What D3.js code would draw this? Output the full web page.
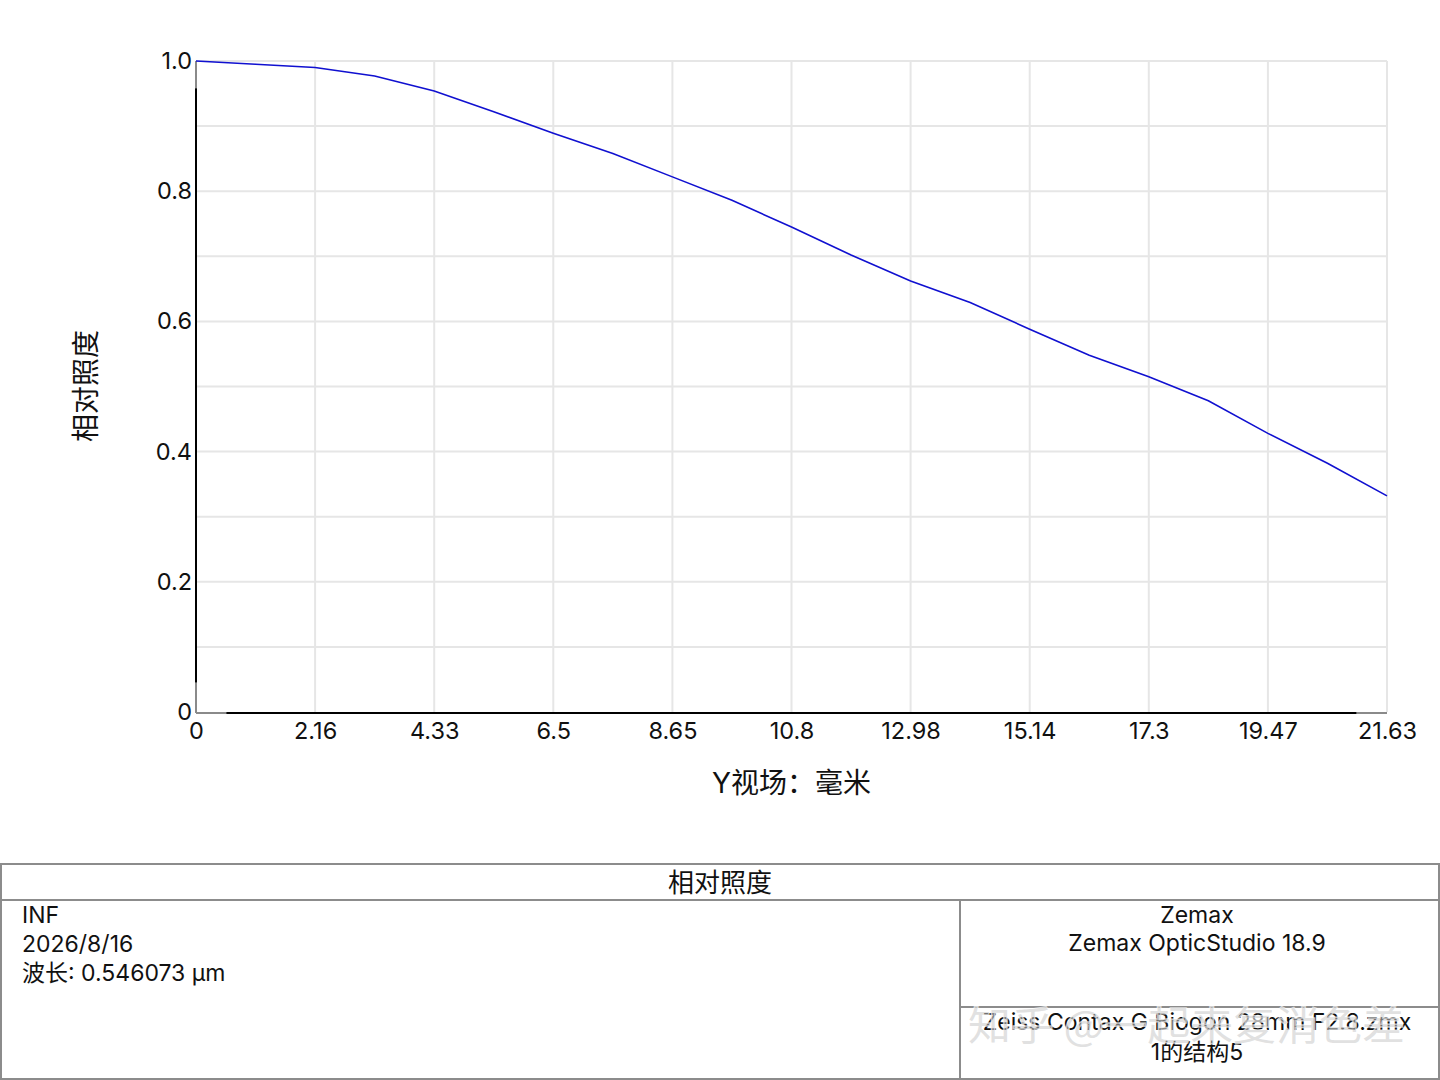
<!DOCTYPE html>
<html>
<head>
<meta charset="utf-8">
<script src="https://cdn.jsdelivr.net/npm/d3@7"></script>
<style>
  html, body { margin: 0; padding: 0; background: #fff; }
  svg { display: block; }
  text { font-family: Inter, "Noto Sans CJK SC", "Noto Sans", sans-serif; fill: #111; }
</style>
</head>
<body>
<svg id="chart" width="1440" height="1080"></svg>
<script>
// ---- data ----
const fieldMax = 21.63;
const fieldY = [0, 1.0815, 2.163, 3.2445, 4.326, 5.4075, 6.489, 7.5705, 8.652, 9.7335, 10.815,
                11.8965, 12.978, 14.0595, 15.141, 16.2225, 17.304, 18.3855, 19.467, 20.5485, 21.63];
const relIllum = [1.000, 0.995, 0.990, 0.977, 0.954, 0.922, 0.889, 0.858, 0.822, 0.786, 0.745, 0.702,
                  0.662, 0.629, 0.588, 0.548, 0.515, 0.478, 0.428, 0.382, 0.332];
const xTickLabels = ["0", "2.16", "4.33", "6.5", "8.65", "10.8", "12.98", "15.14", "17.3", "19.47", "21.63"];
const yTickValues = [0, 0.2, 0.4, 0.6, 0.8, 1.0];
const yTickLabels = ["0", "0.2", "0.4", "0.6", "0.8", "1.0"];
const yGridValues = [0, 0.1, 0.2, 0.3, 0.4, 0.5, 0.6, 0.7, 0.8, 0.9, 1.0];
const titleText = "相对照度";
const xAxisTitle = "Y视场：毫米";
const yAxisTitle = "相对照度";
const infoLeft = ["INF", "2026/8/16", "波长: 0.546073 µm"];
const infoRightTop = ["Zemax", "Zemax OpticStudio 18.9"];
const infoRightBottom = ["Zeiss Contax G Biogon 28mm F2.8.zmx", "1的结构5"];
const watermark = "知乎 @一起来复消色差";

// ---- layout ----
const svg = d3.select("#chart");
const L = 196, R = 1387, T = 61, B = 712;
const x = d3.scaleLinear().domain([0, fieldMax]).range([L, R]);
const y = d3.scaleLinear().domain([0, 1]).range([B, T]);
const xTickValues = d3.range(0, 11).map(i => i * fieldMax / 10);
const latin = 'Inter, "Noto Sans CJK SC", sans-serif';

// grid
const grid = svg.append("g").attr("stroke", "#e6e6e6").attr("stroke-width", 2);
grid.selectAll("line.v").data(xTickValues.slice(1)).join("line")
  .attr("x1", d => x(d)).attr("x2", d => x(d)).attr("y1", T).attr("y2", B);
grid.selectAll("line.h").data(yGridValues.slice(1)).join("line")
  .attr("x1", L).attr("x2", R).attr("y1", d => y(d)).attr("y2", d => y(d));

// axes lines (black with grey ends as in reference)
const ax = svg.append("g").attr("stroke-width", 2);
ax.append("line").attr("x1", L).attr("x2", L).attr("y1", T).attr("y2", y(0.958)).attr("stroke", "#8a8a8a");
ax.append("line").attr("x1", L).attr("x2", L).attr("y1", y(0.958)).attr("y2", y(0.045)).attr("stroke", "#000");
ax.append("line").attr("x1", L).attr("x2", L).attr("y1", y(0.045)).attr("y2", B + 1).attr("stroke", "#8a8a8a");
ax.append("line").attr("x1", L).attr("x2", x(0.55)).attr("y1", B + 1).attr("y2", B + 1).attr("stroke", "#8a8a8a");
ax.append("line").attr("x1", x(0.55)).attr("x2", x(21.08)).attr("y1", B + 1).attr("y2", B + 1).attr("stroke", "#000");
ax.append("line").attr("x1", x(21.08)).attr("x2", R).attr("y1", B + 1).attr("y2", B + 1).attr("stroke", "#8a8a8a");

// x tick labels via axis
const xAxis = d3.axisBottom(x).tickValues(xTickValues).tickSize(0).tickPadding(10)
  .tickFormat((d, i) => xTickLabels[i]);
const gx = svg.append("g").attr("transform", `translate(0,${B})`).call(xAxis);
gx.select(".domain").remove();
gx.selectAll("text").attr("font-size", 23.5).attr("fill", "#111").style("font-family", latin);

// y tick labels via axis
const yAxis = d3.axisLeft(y).tickValues(yTickValues).tickSize(0).tickPadding(4)
  .tickFormat((d, i) => yTickLabels[i]);
const gy = svg.append("g").attr("transform", `translate(${L},0)`).call(yAxis);
gy.select(".domain").remove();
gy.selectAll("text").attr("font-size", 23.5).attr("fill", "#111").style("font-family", latin);

// curve
const pts = fieldY.map((f, i) => [f, relIllum[i]]);
svg.append("path").datum(pts)
  .attr("fill", "none").attr("stroke", "#1010d0").attr("stroke-width", 1.6)
  .attr("d", d3.line().x(d => x(d[0])).y(d => y(d[1])));

// axis titles
svg.append("text").attr("x", (L + R) / 2).attr("y", 793).attr("text-anchor", "middle")
  .attr("font-size", 28).text(xAxisTitle);
svg.append("text").attr("transform", `translate(96,386) rotate(-90)`)
  .attr("text-anchor", "middle").attr("font-size", 28).text(yAxisTitle);

// title block
const tb = svg.append("g").attr("fill", "none").attr("stroke", "#8c8c8c").attr("stroke-width", 2);
tb.append("rect").attr("x", 1).attr("y", 864).attr("width", 1438).attr("height", 215);
tb.append("line").attr("x1", 1).attr("x2", 1439).attr("y1", 900).attr("y2", 900);
tb.append("line").attr("x1", 960).attr("x2", 960).attr("y1", 900).attr("y2", 1079);
tb.append("line").attr("x1", 960).attr("x2", 1439).attr("y1", 1007).attr("y2", 1007);

svg.append("text").attr("x", 720).attr("y", 892).attr("text-anchor", "middle")
  .attr("font-size", 26).text(titleText);

svg.selectAll("text.infoL").data(infoLeft).join("text").attr("class", "infoL")
  .attr("x", 22).attr("y", (d, i) => 923 + i * 29).attr("font-size", 23).text(d => d);
svg.selectAll("text.infoRT").data(infoRightTop).join("text").attr("class", "infoRT")
  .attr("x", 1197).attr("y", (d, i) => 923 + i * 28).attr("text-anchor", "middle")
  .attr("font-size", 23).text(d => d);
svg.selectAll("text.infoRB").data(infoRightBottom).join("text").attr("class", "infoRB")
  .attr("x", 1197).attr("y", (d, i) => 1030 + i * 30).attr("text-anchor", "middle")
  .attr("font-size", 23).text(d => d);

// watermark overlay
svg.append("text").attr("x", 968).attr("y", 1040).attr("font-size", 40)
  .attr("textLength", 437).attr("lengthAdjust", "spacingAndGlyphs")
  .style("fill", "rgba(200,200,200,0.55)").style("stroke", "rgba(255,255,255,0.7)")
  .style("stroke-width", 1.5).style("paint-order", "stroke")
  .style("font-family", '"Noto Sans CJK SC", sans-serif')
  .text(watermark);
</script>
</body>
</html>
